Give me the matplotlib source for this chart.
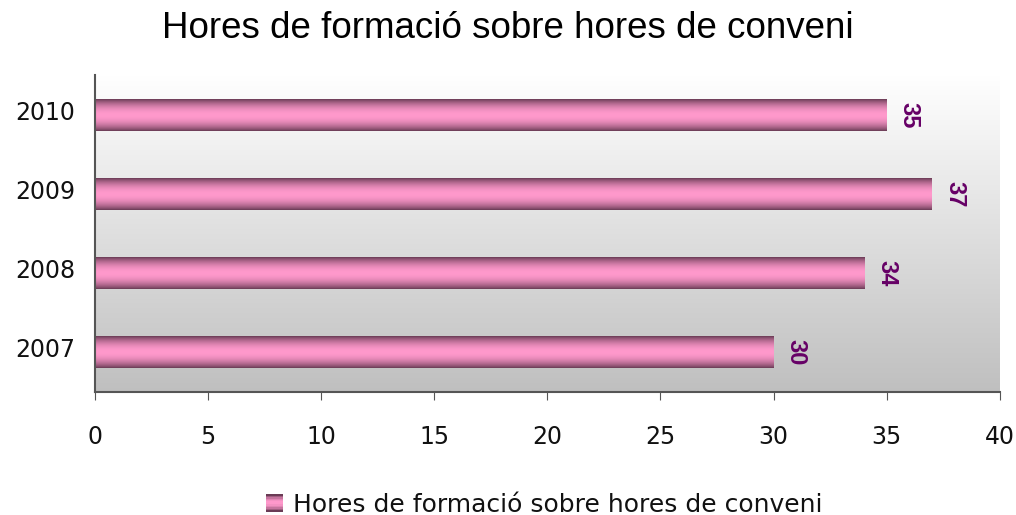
import numpy as np
import matplotlib
matplotlib.use('Agg')
import matplotlib.pyplot as plt
from matplotlib.colors import to_rgb
from matplotlib.legend_handler import HandlerBase
from matplotlib.patches import Rectangle

# Data
years = ['2007', '2008', '2009', '2010']
hours = [30, 34, 37, 35]
series_name = 'Hores de formació sobre hores de conveni'
title = 'Hores de formació sobre hores de conveni'

plt.rcParams['font.family'] = ['DejaVu Sans']

dark = np.array(to_rgb('#6a3b55'))
pink = np.array(to_rgb('#ff99cc'))


def bar_gradient(n=64):
    t = np.linspace(0, 1, n)
    f = np.sin(np.pi * t) ** 0.8
    cols = dark[None, :] + (pink - dark)[None, :] * f[:, None]
    return cols


fig = plt.figure(figsize=(10.16, 5.15), dpi=100)
ax = fig.add_axes([0.0935, 0.239, 0.8905, 0.615])

# background gradient: white at top to grey at bottom
bg = np.linspace(1.0, 0.75, 256)
bg_img = np.repeat(np.stack([bg, bg, bg], axis=1)[:, None, :], 2, axis=1)
ax.imshow(bg_img, extent=(0, 1, 0, 1), transform=ax.transAxes,
          aspect='auto', zorder=0)

bar_h = 0.4
grad = bar_gradient()[:, None, :]
ypos = np.arange(len(years))
for y, v in zip(ypos, hours):
    ax.imshow(grad, extent=(0, v, y - bar_h / 2, y + bar_h / 2),
              aspect='auto', zorder=2, interpolation='bilinear')
    ax.text(v + 1.0, y, str(v), rotation=-90, ha='center', va='center',
            color='#660066', fontsize=17, fontweight='bold',
            family='Liberation Sans', zorder=3)

ax.set_xlim(0, 40)
ax.set_ylim(-0.5, 3.5)
ax.set_xticks(range(0, 41, 5))
ax.set_yticks(ypos + 0.06)
ax.set_yticklabels(years)
ax.tick_params(axis='x', labelsize=17, length=6, color='#555555', pad=18,
               labelcolor='#111111')
ax.tick_params(axis='y', labelsize=17, length=0, pad=14, labelcolor='#111111')
for s in ['top', 'right']:
    ax.spines[s].set_visible(False)
for s in ['left', 'bottom']:
    ax.spines[s].set_color('#555555')
    ax.spines[s].set_linewidth(1.5)

fig.text(0.5, 0.945, title, ha='center', va='center', fontsize=26.5,
         family='Liberation Sans')


class GradientHandler(HandlerBase):
    def create_artists(self, legend, orig_handle, xdescent, ydescent,
                       width, height, fontsize, trans):
        cols = bar_gradient(12)
        side = height * 1.0
        x0 = xdescent + width - side
        y0 = -ydescent + (height - side) / 2
        arts = []
        for i, c in enumerate(cols):
            r = Rectangle((x0, y0 + side * i / len(cols)), side,
                          side / len(cols), facecolor=c, edgecolor='none',
                          transform=trans)
            arts.append(r)
        return arts


proxy = Rectangle((0, 0), 1, 1)
fig.legend([proxy], [series_name], handler_map={Rectangle: GradientHandler()},
           loc='center', bbox_to_anchor=(0.534, 0.02), frameon=False,
           fontsize=18, handlelength=0.85, handletextpad=0.4,
           borderpad=0.1, labelcolor='#111111')

fig.savefig('out.png', dpi=100)
